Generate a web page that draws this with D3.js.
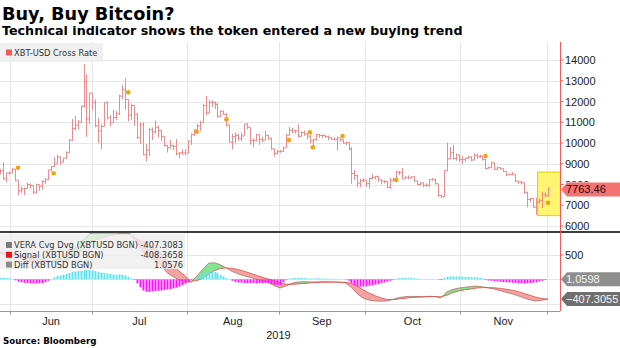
<!DOCTYPE html>
<html><head><meta charset="utf-8">
<script src="https://cdn.jsdelivr.net/npm/d3@7"></script>
<style>body{margin:0;background:#fff;}svg{display:block;}</style>
</head><body>
<svg id="c" width="620" height="348"></svg>
<script>
// ---------- DATA ----------
const startDate = "2019-05-29"; // daily bars from this date
const opens = [
8720,8660,8280,
8550,8560,8740,8210,7700,7790,7810,8000,7950,7630,8000,7920,8150,8230,8700,8860,8990,9320,9080,9270,9530,10140,10700,10860,11010,11780,12930,11160,12400,11960,
10820,10580,10800,11960,11220,10980,11230,11400,12260,12570,12100,11340,11810,11390,10260,10870,9430,9660,10640,10540,10760,10590,10320,9880,9770,9880,9850,9480,9530,9520,9510,
10090,10400,10520,10820,10980,11800,11460,11950,11950,11860,11290,11530,11380,10880,10050,10310,10360,10230,10340,10920,10760,10130,10110,10400,10160,10140,10370,10190,9720,9500,9580,
9600,9760,10380,10620,10590,10580,10320,10510,10440,10330,10100,10160,10410,10360,10360,10310,10260,10190,10160,10240,10160,9990,10020,9700,8530,8430,8060,8190,8210,8050,
8290,8340,8390,8230,8160,8140,7860,8210,8200,8590,8590,8270,8340,8320,8370,8170,8000,8080,7960,7960,8230,8230,8040,7470,7410,8660,9240,9550,9250,9430,9210,
9200,9260,9320,9180,9410,9340,9360,9200,8770,8810,9040,8730,8810,8760,8630,8470,8490,8500,8170,8120,8080,7620,7280,7330,6910,7150,7220,7530,7460];
const highs = [
8760,9070,8570,
8620,8800,8750,8210,7900,7850,8100,8060,7960,8050,8000,8200,8310,8700,8880,9330,9450,9350,9300,9600,10200,11160,11300,11100,11800,13800,13300,12420,12400,12100,
11200,10900,11970,12000,11340,11600,11550,12330,12800,13130,12100,11900,11840,11450,11000,11000,9950,10740,10750,11080,10850,10650,10330,9910,10150,9900,10190,9560,9690,9710,10110,
10460,10660,10920,11070,11890,12270,12070,12060,12000,11920,11570,11560,11450,10900,10450,10510,10450,10500,10920,10950,10760,10230,10440,10410,10300,10600,10400,10270,9730,9680,9670,
9840,10440,10770,10730,10630,10900,10560,10590,10480,10380,10210,10440,10430,10420,10380,10360,10270,10270,10310,10240,10180,10070,10030,9800,8700,8460,8280,8300,8230,8330,
8500,8400,8400,8230,8200,8160,8310,8330,8660,8650,8790,8410,8440,8390,8400,8180,8120,8100,8060,8250,8310,8290,8040,7490,8690,10020,9800,9910,9480,9440,9380,
9300,9380,9360,9510,9480,9440,9370,9240,8870,9100,9060,8860,8830,8780,8650,8520,8600,8500,8190,8170,8100,7650,7350,7340,7370,7330,7650,7620,7870];
const lows = [
8480,8230,8110,
8470,8540,8150,7500,7580,7500,7790,7800,7540,7560,7700,7750,8030,8200,8630,8850,8990,8950,9060,9250,9530,10100,10610,10650,10980,11700,10300,10900,11600,10760,
10000,9700,10800,11130,10800,10980,11110,11360,12120,11600,11050,11100,10830,10200,9960,9410,9110,9370,10140,10450,10260,10100,9830,9540,9740,9660,9410,9260,9430,9410,9500,
9900,10340,10520,10580,10980,11330,11420,11730,11630,11210,11250,11350,10790,10000,9700,9990,10110,10080,10340,10660,9930,9790,10080,9910,10030,10130,10150,9670,9350,9450,9530,
9580,9760,10350,10470,10460,10260,10320,10350,10180,9970,9880,10110,10250,10240,10250,10130,10160,10130,9630,10060,9950,9910,9640,8040,8220,7870,7860,8100,7890,7780,
8250,8240,8140,8000,8050,7830,7790,8150,8170,8460,8250,8270,8250,8290,8130,7960,7950,7860,7900,7880,8180,8000,7400,7360,7400,8650,9210,9200,9150,9080,9000,
9080,9240,9120,9160,9240,9300,9160,8730,8770,8790,8700,8700,8720,8600,8400,8450,8440,8090,8030,8010,7540,6900,7150,6880,6550,7080,6870,7370,7410];
const closes = [
8660,8280,8550,
8560,8740,8210,7700,7790,7810,8000,7950,7630,8000,7920,8150,8230,8700,8860,8990,9320,9080,9270,9530,10140,10700,10860,11010,11780,12930,11160,12400,11960,10820,
10580,10800,11960,11220,10980,11230,11400,12260,12570,12100,11340,11810,11390,10260,10870,9430,9660,10640,10540,10760,10590,10320,9880,9770,9880,9850,9480,9530,9520,9510,10090,
10400,10520,10820,10980,11800,11460,11950,11950,11860,11290,11530,11380,10880,10050,10310,10360,10230,10340,10920,10760,10130,10110,10400,10160,10140,10370,10190,9720,9500,9580,9600,
9760,10380,10620,10590,10580,10320,10510,10440,10330,10100,10160,10410,10360,10360,10310,10260,10190,10160,10240,10160,9990,10020,9700,8530,8430,8060,8190,8210,8050,8290,
8340,8390,8230,8160,8140,7860,8210,8200,8590,8590,8270,8340,8320,8370,8170,8000,8080,7960,7960,8230,8230,8040,7470,7410,8660,9240,9550,9250,9430,9210,9200,
9260,9320,9180,9410,9340,9360,9200,8770,8810,9040,8730,8810,8760,8630,8470,8490,8500,8170,8120,8080,7620,7280,7330,6910,7150,7220,7530,7460,7763.46];

const markerDates  = ["2019-06-04","2019-06-16","2019-07-11","2019-08-03","2019-08-13","2019-09-03","2019-09-10","2019-09-11","2019-09-21","2019-10-09","2019-11-08","2019-11-29"];
const markerValues = [8810,8540,12440,10550,11140,10140,10510,9790,10340,8215,9375,7120];

// VERA convergence/divergence and signal, every 2 days from startDate
const veraValues = [
560,545,
510,460,410,370,330,320,340,390,440,500,580,690,820,930,990,
1000,1010,1000,1010,1000,920,730,560,450,390,300,140,60,-10,-50,
-60,60,200,330,340,300,230,160,110,70,40,0,-30,-60,-130,-180,
-140,-80,-55,-50,-55,-55,-50,-52,-55,-60,-75,-170,-300,-390,-430,
-445,-450,-445,-410,-375,-360,-350,-355,-360,-350,-355,-380,-260,-210,-180,
-165,-150,-140,-155,-180,-200,-235,-270,-300,-340,-385,-425,-445,-430,-407.31];
const signalValues = [
530,520,
505,500,480,450,415,395,375,365,370,400,440,520,630,735,810,
850,890,910,930,940,920,820,780,710,640,540,400,280,170,80,
-40,-30,20,110,180,220,235,225,200,165,125,85,45,5,-30,-70,
-100,-105,-95,-85,-75,-68,-62,-60,-58,-58,-62,-85,-140,-220,-285,
-340,-385,-415,-420,-405,-390,-375,-368,-363,-358,-355,-360,-330,-275,-240,
-215,-200,-180,-172,-170,-175,-188,-205,-225,-255,-290,-330,-370,-395,-408.37];
// Diff histogram, daily from startDate
const diffValues = [
30,35,30,
20,10,-20,-45,-60,-70,-75,-80,-90,-85,-80,-75,-60,-30,10,40,70,80,95,110,130,150,160,170,175,185,195,190,185,170,
150,135,130,120,110,100,95,100,95,80,50,20,-10,-80,-160,-230,-255,-260,-250,-240,-235,-230,-220,-210,-200,-185,-170,-150,-120,-90,-50,
-15,10,30,70,110,140,160,165,150,120,90,60,30,10,-30,-55,-65,-70,-75,-80,-75,-80,-80,-80,-80,-75,-80,-95,-110,-120,-115,
-60,-10,15,25,30,30,30,25,20,15,15,20,20,15,15,10,10,10,10,5,5,-10,-30,-80,-120,-145,-150,-150,-145,-135,
-125,-110,-95,-80,-65,-50,-30,-10,15,25,30,30,30,25,20,15,10,5,5,10,10,5,-10,-15,30,55,60,60,60,55,55,
50,50,45,45,40,30,15,-15,-25,-30,-40,-45,-50,-55,-60,-65,-70,-75,-80,-85,-85,-80,-75,-70,-60,-45,-30,-15,1.06];

const priceTicks = [6000,7000,8000,9000,10000,11000,12000,13000,14000];
const indTicks = [500];
const indGrid = [-500,0,500];
const gridDates = ["2019-06-01T08:00:00Z","2019-06-28T20:00:00Z","2019-07-30T16:00:00Z","2019-08-30T14:00:00Z","2019-09-28T12:00:00Z","2019-10-30T10:00:00Z","2019-11-28T14:00:00Z"];
const monthLabels = ["Jun","Jul","Aug","Sep","Oct","Nov"];
const yearLabel = "2019";
const highlightDates = ["2019-11-25T12:00:00Z","2019-12-06T00:00:00Z"];
const highlightValues = [6500, 8600];
const lastPrice = 7763.46, lastDiff = 1.0598, lastVera = -407.3055;
const legendRows = [["VERA Cvg Dvg (XBTUSD BGN)","-407.3083","#7a7a7a"],["Signal (XBTUSD BGN)","-408.3658","#e8141b"],["Diff (XBTUSD BGN)","1.0576","#8c8c8c"]];

// ---------- CHART ----------
const svg = d3.select("#c");
const P = s => new Date(s.length === 10 ? s + "T00:00:00Z" : s);
const t0 = P(startDate);
const days = closes.map((_, i) => d3.utcDay.offset(t0, i));
const indDays = veraValues.map((_, i) => d3.utcDay.offset(t0, 2 * i));

const PT = 42, PB = 231, IT = 233, IB = 311, RX = 560;
const x = d3.scaleUtc().domain([P("2019-06-04"), P("2019-11-29")]).range([18, 548]);
const yP = d3.scaleLinear().domain([6000, 14000]).range([226, 60]);
const yI = d3.scaleLinear().domain([-500, 500]).range([303.6, 255]);
const tagY = yP(lastPrice);

const defs = svg.append("defs");
defs.append("clipPath").attr("id", "cp").append("rect").attr("x", 0).attr("y", PT).attr("width", RX).attr("height", PB - PT);
defs.append("clipPath").attr("id", "ci").append("rect").attr("x", 0).attr("y", IT).attr("width", RX).attr("height", IB - IT);
// area of right axis labels not covered by the price tag
defs.append("clipPath").attr("id", "lab").append("path")
  .attr("d", `M560,0H620V${tagY - 7}H560Z M560,${tagY + 7}H620V348H560Z`);
const ind = indDays.map((d, i) => ({d, m: veraValues[i], s: signalValues[i]}));
defs.append("clipPath").attr("id", "aboveS").append("path")
  .attr("d", d3.area().x(d => x(d.d)).y0(IT - 60).y1(d => yI(d.s))(ind));
defs.append("clipPath").attr("id", "belowS").append("path")
  .attr("d", d3.area().x(d => x(d.d)).y0(d => yI(d.s)).y1(IB + 60)(ind));

// Titles
svg.append("text").attr("x", 2).attr("y", 19.5).attr("font-family", "DejaVu Sans").attr("font-weight", "bold")
  .attr("font-size", 17.7).attr("fill", "#000").text("Buy, Buy Bitcoin?");
svg.append("text").attr("x", 2).attr("y", 35).attr("font-family", "DejaVu Sans").attr("font-weight", "bold")
  .attr("font-size", 12.7).attr("fill", "#000").text("Technical indicator shows the token entered a new buying trend");

// grid
const grid = svg.append("g");
grid.selectAll(".hg").data(priceTicks).join("line")
  .attr("x1", 0).attr("x2", RX).attr("y1", d => Math.round(yP(d)) + 0.5).attr("y2", d => Math.round(yP(d)) + 0.5)
  .attr("stroke", "#e6e6e6");
grid.selectAll(".ig").data(indGrid).join("line")
  .attr("x1", 0).attr("x2", RX).attr("y1", d => Math.round(yI(d)) + 0.5).attr("y2", d => Math.round(yI(d)) + 0.5)
  .attr("stroke", "#e6e6e6");
grid.selectAll(".vg").data(gridDates).join("line")
  .attr("x1", d => Math.round(x(P(d))) + 0.5).attr("x2", d => Math.round(x(P(d))) + 0.5)
  .attr("y1", PT).attr("y2", IB).attr("stroke", "#e6e6e6");

// price panel
const gp = svg.append("g").attr("clip-path", "url(#cp)");
gp.append("rect").attr("x", x(P(highlightDates[0]))).attr("width", x(P(highlightDates[1])) - x(P(highlightDates[0])))
  .attr("y", yP(highlightValues[1])).attr("height", yP(highlightValues[0]) - yP(highlightValues[1]))
  .attr("fill", "#fff35a").attr("fill-opacity", 0.85).attr("stroke", "#e3cf00").attr("stroke-width", 1);
gp.selectAll(".bar").data(days).join("path")
  .attr("d", (d, i) => {
    const xi = Math.round(x(d)) + 0.5;
    return `M${xi},${yP(highs[i])}V${yP(lows[i])}M${xi - 1.6},${yP(opens[i])}H${xi}M${xi},${yP(closes[i])}H${xi + 1.6}`;
  })
  .attr("stroke", "#ec8c8c").attr("stroke-width", 1).attr("fill", "none");
gp.selectAll(".mk").data(markerDates).join("circle")
  .attr("cx", d => x(P(d))).attr("cy", (d, i) => yP(markerValues[i])).attr("r", 2.3)
  .attr("fill", "#f3a10c");

// top legend
svg.append("rect").attr("x", 0).attr("y", 43).attr("width", 103).attr("height", 19).attr("fill", "#eeeeee").attr("fill-opacity", 0.9);
svg.append("rect").attr("x", 6).attr("y", 49.5).attr("width", 6).attr("height", 6).attr("fill", "#f05a5a");
svg.append("text").attr("x", 14).attr("y", 56).attr("font-family", "DejaVu Sans").attr("font-size", 8.3)
  .attr("fill", "#333").text("XBT-USD Cross Rate");

// indicator panel
const gi = svg.append("g").attr("clip-path", "url(#ci)");
const band = d3.area().x(d => x(d.d)).y0(d => yI(d.s)).y1(d => yI(d.m));
gi.append("path").attr("d", band(ind)).attr("fill", "#6fe07d").attr("fill-opacity", 0.85).attr("clip-path", "url(#aboveS)");
gi.append("path").attr("d", band(ind)).attr("fill", "#f07a7a").attr("fill-opacity", 0.7).attr("clip-path", "url(#belowS)");
gi.append("path").attr("d", d3.line().x(d => x(d.d)).y(d => yI(d.m))(ind)).attr("fill", "none").attr("stroke", "#b56b6b").attr("stroke-width", 0.8);
gi.append("path").attr("d", d3.line().x(d => x(d.d)).y(d => yI(d.s))(ind)).attr("fill", "none").attr("stroke", "#e04848").attr("stroke-width", 0.8);
gi.selectAll(".hb").data(days).join("rect")
  .attr("x", d => Math.round(x(d)) - 0.5).attr("width", 2)
  .attr("y", (d, i) => Math.min(yI(0), yI(diffValues[i])))
  .attr("height", (d, i) => Math.abs(yI(diffValues[i]) - yI(0)))
  .attr("fill", (d, i) => diffValues[i] >= 0 ? "#5fe3ec" : "#ff14ff");

// lower legend
svg.append("rect").attr("x", 0).attr("y", 234).attr("width", 185).attr("height", 35).attr("fill", "#eeeeee").attr("fill-opacity", 0.82);
const lg = svg.append("g").attr("font-family", "DejaVu Sans").attr("font-size", 8.3).attr("fill", "#333");
legendRows.forEach((r, i) => {
  const cy = 245 + i * 9.8;
  lg.append("rect").attr("x", 6).attr("y", cy - 3).attr("width", 6).attr("height", 6).attr("fill", r[2]);
  lg.append("text").attr("x", 14).attr("y", cy + 3).text(r[0]);
  lg.append("text").attr("x", 183).attr("y", cy + 3).attr("text-anchor", "end").text(r[1]);
});

// separator
svg.append("line").attr("x1", 0).attr("x2", 620).attr("y1", 232).attr("y2", 232).attr("stroke", "#3c3c3c").attr("stroke-width", 2);

// right axes
const ax = svg.append("g").attr("font-family", "Liberation Sans, Arial, sans-serif").attr("font-size", 11).attr("fill", "#222");
ax.append("line").attr("x1", RX + 0.5).attr("x2", RX + 0.5).attr("y1", PT).attr("y2", IB).attr("stroke", "#ef5a5a");
const labs = ax.append("g").attr("clip-path", "url(#lab)");
priceTicks.forEach(v => {
  ax.append("line").attr("x1", RX).attr("x2", RX + 3.5).attr("y1", yP(v)).attr("y2", yP(v)).attr("stroke", "#ef5a5a");
  labs.append("text").attr("x", 565).attr("y", yP(v) + 4).text(v);
});
indTicks.forEach(v => {
  ax.append("line").attr("x1", RX).attr("x2", RX + 3.5).attr("y1", yI(v)).attr("y2", yI(v)).attr("stroke", "#ef5a5a");
  ax.append("text").attr("x", 565).attr("y", yI(v) + 4).text(v);
});

// value tags
function tag(y, fill, txtFill, label) {
  const tx = RX + 1;
  ax.append("path").attr("d", `M${tx},${y}L${tx + 6},${y - 7}H620V${y + 7}H${tx + 6}Z`).attr("fill", fill);
  ax.append("text").attr("x", 566).attr("y", y + 4).attr("fill", txtFill).text(label);
}
tag(tagY, "#f37272", "#2a0a0a", d3.format(".2f")(lastPrice));
tag(yI(lastDiff), "#8e8e8e", "#f4f4f4", d3.format(".4f")(lastDiff));
tag(yI(lastVera), "#6f6f6f", "#f4f4f4", d3.format(".4f")(lastVera));

// x axis
const xa = svg.append("g").attr("font-family", "Liberation Sans, Arial, sans-serif").attr("font-size", 11).attr("fill", "#222");
xa.append("line").attr("x1", 0).attr("x2", RX).attr("y1", IB + 0.5).attr("y2", IB + 0.5).attr("stroke", "#9a9a9a");
gridDates.forEach(d => {
  const xx = Math.round(x(P(d))) + 0.5;
  xa.append("line").attr("x1", xx).attr("x2", xx).attr("y1", IB).attr("y2", IB + 3.5).attr("stroke", "#9a9a9a");
});
monthLabels.forEach((m, i) => {
  const mx = (x(P(gridDates[i])) + x(P(gridDates[i + 1]))) / 2;
  xa.append("text").attr("x", mx).attr("y", 324.5).attr("text-anchor", "middle").text(m);
});
xa.append("text").attr("x", (x(P(gridDates[0])) + x(P(gridDates[6]))) / 2).attr("y", 338.5).attr("text-anchor", "middle").text(yearLabel);

svg.append("text").attr("x", 3).attr("y", 344).attr("font-family", "DejaVu Sans").attr("font-weight", "bold")
  .attr("font-size", 8.7).attr("fill", "#000").text("Source: Bloomberg");
</script>
</body></html>
